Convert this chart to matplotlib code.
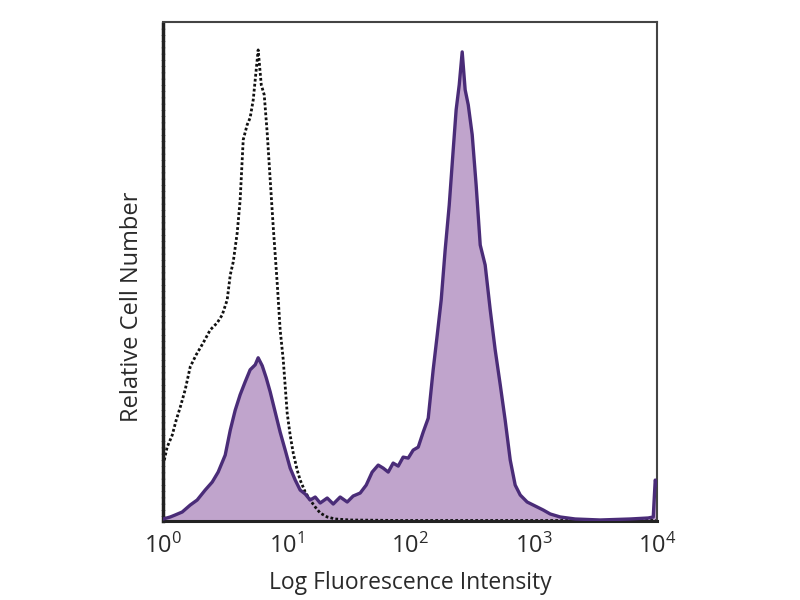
import numpy as np
import matplotlib
matplotlib.use("Agg")
import matplotlib.pyplot as plt

plt.rcParams['font.family'] = ['Open Sans', 'DejaVu Sans']
plt.rcParams['mathtext.fontset'] = 'custom'
plt.rcParams['mathtext.rm'] = 'Open Sans'
plt.rcParams['mathtext.it'] = 'Open Sans'

# Stained sample (filled purple histogram): log10 intensity, relative count
stained_log = [0.00, 0.057, 0.097, 0.154, 0.219, 0.275, 0.340, 0.397, 0.445, 0.502,
               0.543, 0.583, 0.623, 0.664, 0.704, 0.745, 0.769, 0.802, 0.834, 0.866,
               0.907, 0.947, 0.988, 1.028, 1.069, 1.109, 1.150, 1.190, 1.231, 1.271,
               1.328, 1.377, 1.433, 1.490, 1.538, 1.595, 1.644, 1.692, 1.741, 1.781,
               1.822, 1.862, 1.903, 1.943, 1.984, 2.024, 2.065, 2.105, 2.146, 2.186,
               2.219, 2.251, 2.283, 2.316, 2.348, 2.372, 2.397, 2.421, 2.445, 2.470,
               2.502, 2.534, 2.567, 2.607, 2.648, 2.688, 2.729, 2.769, 2.810, 2.850,
               2.891, 2.947, 3.012, 3.077, 3.134, 3.215, 3.336, 3.538, 3.781, 3.927,
               3.968, 3.984, 4.000]
stained_count = [0.4, 0.8, 1.2, 1.8, 3.2, 4.2, 6.2, 7.8, 9.8, 13.2,
                 18.2, 22.2, 25.3, 27.9, 30.3, 31.3, 32.7, 31.1, 28.7, 25.9,
                 21.8, 17.8, 14.2, 10.6, 8.2, 6.2, 5.4, 4.2, 4.8, 3.6,
                 4.6, 3.4, 4.8, 3.8, 5.0, 5.6, 7.2, 9.8, 11.2, 10.6,
                 9.8, 11.6, 11.0, 12.8, 12.6, 14.2, 14.8, 17.8, 20.6, 30.3,
                 37.3, 44.3, 54.3, 63.3, 74.3, 82.4, 87.4, 94.0, 86.4, 83.4,
                 77.4, 67.3, 55.3, 51.3, 42.3, 34.3, 27.3, 20.2, 12.2, 7.2,
                 5.2, 3.8, 3.0, 2.2, 1.4, 0.8, 0.4, 0.2, 0.4, 0.6,
                 0.8, 8.2, 7.2]

# Isotype control (dotted black histogram)
control_log = [0.00, 0.032, 0.073, 0.105, 0.138, 0.178, 0.219, 0.267, 0.324, 0.381,
               0.437, 0.478, 0.518, 0.543, 0.567, 0.599, 0.623, 0.648, 0.680, 0.704,
               0.729, 0.753, 0.769, 0.794, 0.818, 0.842, 0.866, 0.891, 0.923, 0.947,
               0.972, 1.004, 1.028, 1.053, 1.085, 1.109, 1.150, 1.190, 1.231, 1.271,
               1.328, 1.393, 1.514, 1.919, 2.5, 3.0, 3.5, 4.0]
control_count = [11.2, 14.8, 17.2, 20.2, 22.8, 26.3, 30.9, 33.3, 35.7, 38.3,
                 39.7, 41.3, 44.3, 49.3, 51.9, 57.7, 64.3, 76.4, 79.4, 80.8,
                 84.4, 90.4, 94.4, 87.4, 85.4, 77.8, 68.5, 58.9, 47.7, 38.3,
                 32.3, 21.6, 17.2, 13.6, 10.2, 8.2, 5.8, 4.2, 2.8, 1.6,
                 0.8, 0.4, 0.2, 0.1, 0.1, 0.1, 0.1, 0.1]

tick_vals = [1, 10, 100, 1000, 10000]
tick_labels = [r'$10^{0}$', r'$10^{1}$', r'$10^{2}$', r'$10^{3}$', r'$10^{4}$']

fig = plt.figure(figsize=(8, 6), dpi=100)
ax = fig.add_axes([0.204, 0.1317, 0.6175, 0.8317])

sx = 10 ** np.array(stained_log)
cx = 10 ** np.array(control_log)

ax.fill_between(sx, 0, stained_count, color='#c0a4cc', linewidth=0, zorder=1)
ax.plot(sx, stained_count, color='#4a2c78', linewidth=2.4, zorder=3)
ax.plot(cx, control_count, color='#111111', linewidth=2.0,
        linestyle=(0, (1, 0.8)), zorder=2)

ax.set_xscale('log')
ax.set_xlim(1, 10000)
ax.set_ylim(0, 100)
ax.set_xticks(tick_vals)
ax.set_xticklabels(tick_labels)
ax.minorticks_off()
ax.tick_params(axis='x', length=0, pad=9, labelsize=17, labelcolor='#2a2a2a')
ax.set_yticks([])

ax.set_xlabel('Log Fluorescence Intensity', fontsize=16.5, color='#2a2a2a')
ax.set_ylabel('Relative Cell Number', fontsize=17, color='#2a2a2a')
ax.xaxis.set_label_coords(0.5, -0.124)
ax.yaxis.set_label_coords(-0.063, 0.43)
ax.xaxis.label.set_verticalalignment('center')
ax.yaxis.label.set_verticalalignment('center')

for s in ['top', 'right']:
    ax.spines[s].set_color('#444444')
    ax.spines[s].set_linewidth(1.5)
ax.spines['bottom'].set_color('#222222')
ax.spines['bottom'].set_linewidth(2.2)
ax.spines['left'].set_color('#222222')
ax.spines['left'].set_linewidth(2.5)
ax.spines['left'].set_linestyle((0, (1, 0.8)))

fig.savefig('out.png', dpi=100)
